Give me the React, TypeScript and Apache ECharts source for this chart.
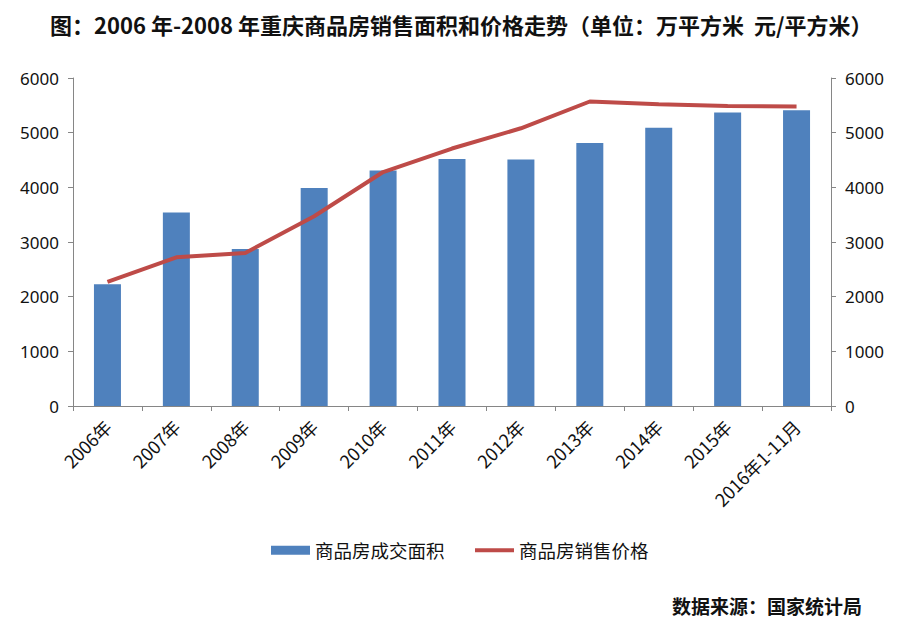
import React, { useEffect, useRef } from "react";
import * as echarts from "echarts";

const categories = ["2006年", "2007年", "2008年", "2009年", "2010年", "2011年", "2012年", "2013年", "2014年", "2015年", "2016年1-11月"];
const areaValues = [2225, 3540, 2870, 3990, 4310, 4520, 4510, 4810, 5090, 5370, 5410];
const priceValues = [2270, 2720, 2800, 3470, 4280, 4710, 5080, 5570, 5520, 5490, 5480];
const yTicks = { min: 0, max: 6000, interval: 1000 };
const titleText = "图：2006 年-2008 年重庆商品房销售面积和价格走势（单位：万平方米  元/平方米）";
const sourceText = "数据来源：国家统计局";
const seriesNames = ["商品房成交面积", "商品房销售价格"];

const FONT = "'Noto Sans', 'Noto Sans CJK SC', sans-serif";
const CJK = "'Noto Sans CJK SC', 'Noto Sans', sans-serif";

export default function App() {
  const ref = useRef<HTMLDivElement>(null);
  useEffect(() => {
    document.body.style.margin = "0";
    const chart = echarts.init(ref.current!, null, { renderer: "svg" });
    const axisLine = { show: true, lineStyle: { color: "#868686", width: 1 } };
    const legendText = { fontFamily: CJK, fontSize: 18.5, color: "#111" };
    chart.setOption({
      animation: false,
      backgroundColor: "#ffffff",
      title: {
        text: titleText,
        left: 45,
        top: 8,
        textStyle: { fontFamily: CJK, fontSize: 22, fontWeight: "bold", color: "#111" },
      },
      graphic: [
        {
          type: "text",
          right: 38,
          top: 596,
          style: { text: sourceText, font: `bold 19px ${CJK}`, fill: "#111" },
        },
      ],
      legend: [
        {
          left: 266,
          top: 536,
          itemWidth: 39,
          itemHeight: 9,
          icon: "rect",
          textStyle: legendText,
          data: [seriesNames[0]],
        },
        {
          left: 470,
          top: 536,
          itemWidth: 39,
          itemHeight: 4,
          icon: "rect",
          textStyle: legendText,
          data: [seriesNames[1]],
        },
      ],
      grid: { left: 73, right: 69, top: 78, bottom: 223, containLabel: false },
      xAxis: {
        type: "category",
        data: categories,
        axisLine,
        axisTick: { show: true, alignWithLabel: false, length: 5, lineStyle: { color: "#868686" } },
        axisLabel: { rotate: 45, interval: 0, fontFamily: CJK, fontSize: 18, color: "#111", margin: 17 },
      },
      yAxis: [
        {
          type: "value",
          ...yTicks,
          position: "left",
          axisLine,
          axisTick: { show: true, length: 5, lineStyle: { color: "#868686" } },
          splitLine: { show: false },
          axisLabel: { fontFamily: FONT, fontSize: 17, color: "#111", margin: 14, formatter: (v: number) => String(v) },
        },
        {
          type: "value",
          ...yTicks,
          position: "right",
          axisLine,
          axisTick: { show: true, length: 5, lineStyle: { color: "#868686" } },
          splitLine: { show: false },
          axisLabel: { fontFamily: FONT, fontSize: 17, color: "#111", margin: 14, formatter: (v: number) => String(v) },
        },
      ],
      series: [
        {
          name: seriesNames[0],
          type: "bar",
          data: areaValues,
          barWidth: 27,
          itemStyle: { color: "#4F81BD" },
          yAxisIndex: 0,
        },
        {
          name: seriesNames[1],
          type: "line",
          data: priceValues,
          yAxisIndex: 1,
          symbol: "none",
          lineStyle: { color: "#BE4B48", width: 4 },
          itemStyle: { color: "#BE4B48" },
        },
      ],
    });
    return () => chart.dispose();
  }, []);
  return <div ref={ref} style={{ width: 900, height: 629 }} />;
}
